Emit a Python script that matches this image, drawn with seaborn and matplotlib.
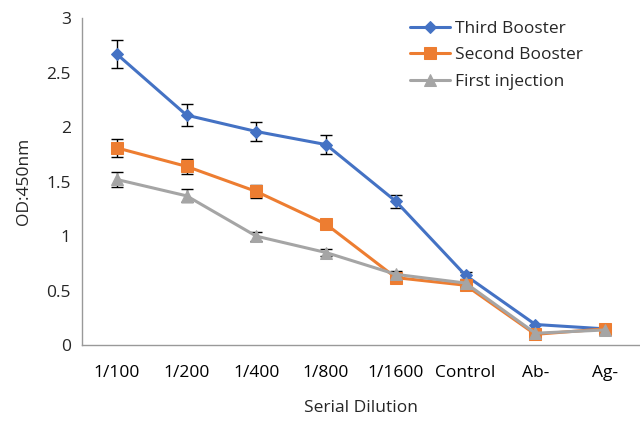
import matplotlib
matplotlib.use("Agg")
import matplotlib.pyplot as plt
import seaborn as sns
import pandas as pd
import numpy as np

categories = ["1/100", "1/200", "1/400", "1/800", "1/1600", "Control", "Ab-", "Ag-"]
third = [2.67, 2.11, 1.96, 1.84, 1.32, 0.64, 0.19, 0.15]
third_err = [0.13, 0.10, 0.09, 0.09, 0.06, 0.03, 0.0, 0.0]
second = [1.81, 1.64, 1.41, 1.11, 0.62, 0.55, 0.10, 0.15]
second_err = [0.08, 0.07, 0.06, 0.04, 0.03, 0.02, 0.0, 0.0]
first = [1.52, 1.37, 1.00, 0.85, 0.65, 0.57, 0.11, 0.14]
first_err = [0.07, 0.06, 0.04, 0.03, 0.03, 0.02, 0.0, 0.0]
series_names = ["Third Booster", "Second Booster", "First injection"]
colors = ["#4472C4", "#ED7D31", "#A5A5A5"]
markers = ["D", "s", "^"]
msizes = [6, 8, 8]

sns.set_style("white")
plt.rcParams['font.family'] = ['Open Sans', 'DejaVu Sans']

fig = plt.figure(figsize=(6.4, 4.21), dpi=100)
ax = fig.add_axes([0.128, 0.180, 0.872, 0.777])

x = np.arange(len(categories))
data = [third, second, first]
errs = [third_err, second_err, first_err]
for name, vals, err, c, m, ms in zip(series_names, data, errs, colors, markers, msizes):
    df = pd.DataFrame({"x": x, "y": vals})
    err = np.asarray(err)
    mask = err > 0
    ax.errorbar(x[mask], np.asarray(vals)[mask], yerr=err[mask], fmt="none", ecolor="black",
                elinewidth=1, capsize=4, capthick=1, zorder=1)
    sns.lineplot(data=df, x="x", y="y", ax=ax, color=c, marker=m, markersize=ms,
                 markeredgecolor=c, linewidth=2.2, label=name, zorder=2)

ax.set_xlim(-0.5, len(categories) - 0.5)
ax.set_ylim(0, 3)
ax.set_yticks(np.arange(0, 3.01, 0.5))
ax.set_yticklabels(["0", "0.5", "1", "1.5", "2", "2.5", "3"])
ax.set_xticks(x)
ax.set_xticklabels(categories)
ax.set_xticks(np.arange(-0.5, len(categories), 1), minor=True)
ax.tick_params(axis="x", which="major", length=0, labelsize=12.5, pad=14, colors="#000000")
ax.tick_params(axis="x", which="minor", length=5, width=1, color="#999999", direction="out")
ax.tick_params(axis="y", length=0, labelsize=12.5, pad=8)

for s in ["top", "right"]:
    ax.spines[s].set_visible(False)
ax.spines["left"].set_color("#999999")
ax.spines["bottom"].set_color("#999999")
ax.spines["left"].set_linewidth(1)
ax.spines["bottom"].set_linewidth(1)

ax.set_xlabel("Serial Dilution", fontsize=12.5, labelpad=14)
ax.set_ylabel("OD:450nm", fontsize=12.5, labelpad=10)
ax.grid(False)

leg = ax.legend(loc="upper left", bbox_to_anchor=(0.56, 1.04), frameon=False, fontsize=12.5,
                handlelength=2.3, labelspacing=0.6, handletextpad=0.3)

fig.savefig("out.png", dpi=100)
